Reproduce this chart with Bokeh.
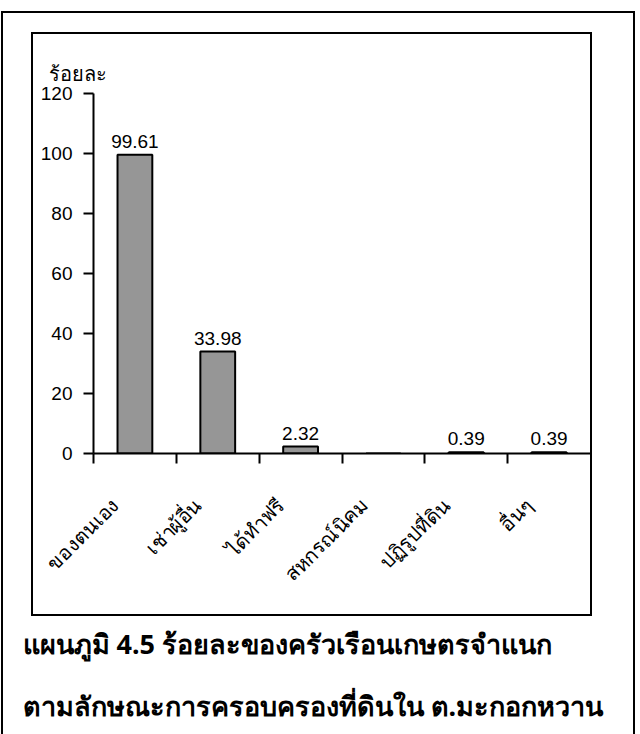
import math
from bokeh.plotting import figure
from bokeh.models import (Range1d, LinearAxis, FixedTicker, ColumnDataSource,
                          Title, InlineStyleSheet)
from bokeh.embed import file_html
from bokeh.resources import INLINE
from bokeh.core.properties import value

# ---- data ----
categories = ["ของตนเอง", "เช่าผู้อื่น", "ได้ทำฟรี", "สหกรณ์นิคม", "ปฏิรูปที่ดิน", "อื่นๆ"]
percent = [99.61, 33.98, 2.32, 0.0, 0.39, 0.39]
y_ticks = [0, 20, 40, 60, 80, 100, 120]
y_axis_title = "ร้อยละ"
caption_lines = ["แผนภูมิ  4.5  ร้อยละของครัวเรือนเกษตรจำแนก",
                 "ตามลักษณะการครอบครองที่ดินใน ต.มะกอกหวาน"]

# category slot positions on a numeric axis (slot i spans [i, i+1])
n = len(categories)
centers = [i + 0.5 for i in range(n)]
bounds = list(range(n))

W, H = 640, 734
THAI_FONT = "Noto Sans"
NUM_FONT = "Liberation Sans"

p = figure(width=W, height=H,
           x_range=Range1d(0, n), y_range=Range1d(0, 120),
           output_backend="svg", toolbar_location=None,
           x_axis_location=None, y_axis_location=None,
           min_border_left=93, min_border_right=50,
           min_border_top=93, min_border_bottom=281)
p.outline_line_color = None
p.background_fill_color = "white"
p.border_fill_color = "white"
p.grid.visible = False

# y-axis title (top-left, horizontal)
p.title.text = y_axis_title
p.title.align = "left"
p.title.offset = -45
p.title.standoff = 14
p.title.text_font = THAI_FONT
p.title.text_font_size = "20px"
p.title.text_font_style = "normal"
p.title.text_color = "black"

# y axis
yaxis = LinearAxis(ticker=FixedTicker(ticks=y_ticks),
                   axis_line_width=2, axis_line_color="black",
                   major_tick_line_width=2, major_tick_line_color="black",
                   major_tick_out=10, major_tick_in=0,
                   minor_tick_line_color=None,
                   major_label_text_font=NUM_FONT,
                   major_label_text_font_size="19px",
                   major_label_text_color="black",
                   major_label_standoff=11)
p.add_layout(yaxis, "left")

# x axis line with tick marks at category boundaries (minor ticks, no labels)
tick_axis = LinearAxis(ticker=FixedTicker(ticks=[], minor_ticks=bounds),
                       axis_line_width=2, axis_line_color="black",
                       major_tick_line_color=None,
                       minor_tick_line_width=2, minor_tick_line_color="black",
                       minor_tick_out=10, minor_tick_in=0,
                       major_label_standoff=0)
p.add_layout(tick_axis, "below")

# category labels (slightly offset label scale, as in the original)
p.extra_x_ranges = {"labels": Range1d(0.24, n + 0.24)}
cat_axis = LinearAxis(x_range_name="labels",
                      ticker=FixedTicker(ticks=centers),
                      major_label_overrides={c: lab for c, lab in zip(centers, categories)},
                      axis_line_color=None, major_tick_line_color=None,
                      minor_tick_line_color=None,
                      major_label_orientation=math.pi / 4,
                      major_label_standoff=32,
                      major_label_text_font=THAI_FONT,
                      major_label_text_font_size="20px",
                      major_label_text_color="black")
p.add_layout(cat_axis, "below")

# caption lines
for i, line in enumerate(caption_lines):
    t = Title(text=line, align="left", offset=22 - 93,
              text_font=THAI_FONT, text_font_size="27px",
              text_font_style="bold", text_color="black",
              standoff=46 if i == 0 else 0)
    p.add_layout(t, "below")

# bars
p.vbar(x=centers, top=percent, width=0.42,
       fill_color="#969696", line_color="black", line_width=2)

# value labels (non-zero only)
lab_x = [c for c, v in zip(centers, percent) if v > 0]
lab_vals = [v for v in percent if v > 0]
lab_txt = [f"{v:.2f}" for v in lab_vals]
src = ColumnDataSource(dict(x=lab_x, y=lab_vals, t=lab_txt))
p.text(x="x", y="y", text="t", source=src, text_align="center",
       text_baseline="bottom", y_offset=-7,
       text_font=value(NUM_FONT), text_font_size="19px", text_color="black")

# the two boxed frames of the original figure
frame_css = InlineStyleSheet(css="""
:host { position: relative; overflow: visible; }
:host::before { content: ""; position: absolute; box-sizing: border-box;
  left: 1px; top: 11px; width: 634px; height: 723px;
  border: 2px solid #000; border-bottom: none; pointer-events: none; z-index: 5; }
:host::after { content: ""; position: absolute; box-sizing: border-box;
  left: 31px; top: 32px; width: 561px; height: 584px;
  border: 2px solid #000; pointer-events: none; z-index: 5; }
""")
p.stylesheets = [frame_css]

open("out.html", "w").write(file_html(p, INLINE))
